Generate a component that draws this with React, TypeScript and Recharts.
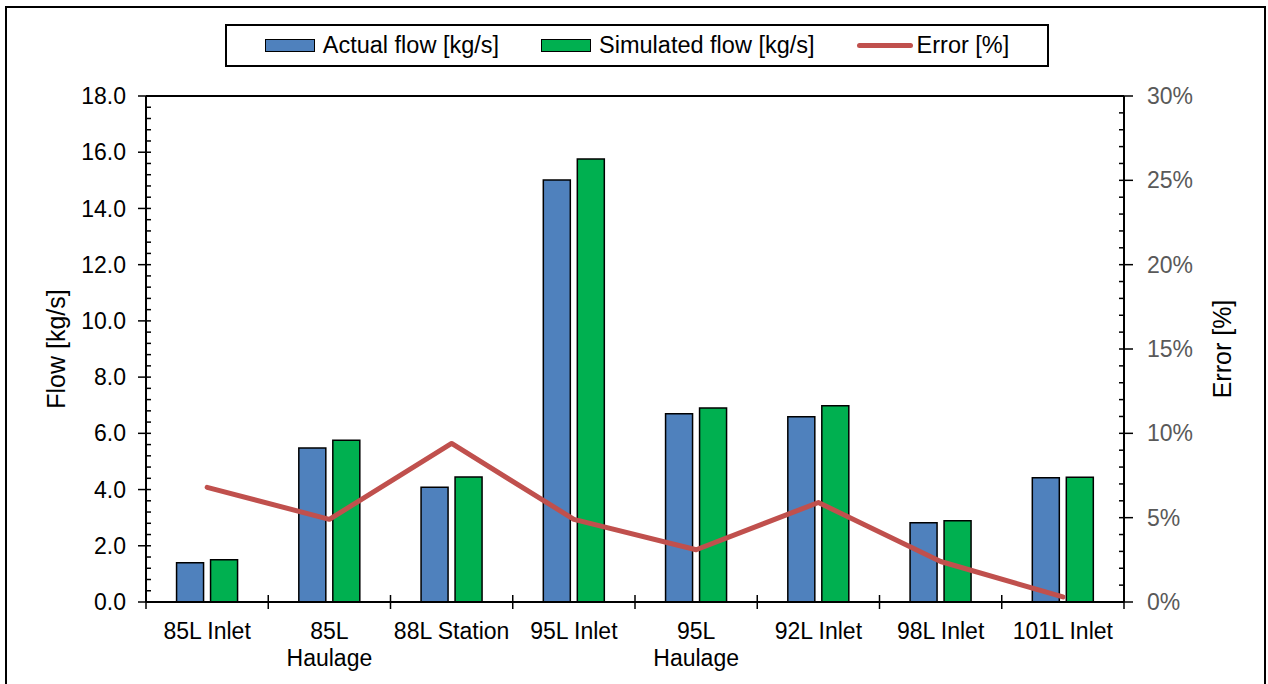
import React from "react";
import {
  ComposedChart, Bar, Line, XAxis, YAxis, CartesianGrid, Legend, ReferenceLine,
} from "recharts";

const categories = [
  "85L Inlet", "85L Haulage", "88L Station", "95L Inlet",
  "95L Haulage", "92L Inlet", "98L Inlet", "101L Inlet",
];
const actualFlow = [1.40, 5.48, 4.08, 15.01, 6.70, 6.59, 2.82, 4.42];
const simulatedFlow = [1.50, 5.75, 4.45, 15.76, 6.90, 6.98, 2.89, 4.44];
const errorPct = [6.8, 4.9, 9.4, 4.9, 3.1, 5.9, 2.4, 0.3];

const flowTicks = [0, 2, 4, 6, 8, 10, 12, 14, 16, 18];
const errorTicks = [0, 5, 10, 15, 20, 25, 30];

const seriesNames = ["Actual flow [kg/s]", "Simulated flow [kg/s]", "Error [%]"];

const W = 1268;
const H = 684;
const LEFT_W = 146;
const RIGHT_W = 144;
const TOP = 96;
const X_AXIS_H = 82;
const PLOT_W = W - LEFT_W - RIGHT_W;
const BAND = PLOT_W / categories.length;

const FONT = "'Liberation Sans', Arial, Helvetica, sans-serif";
const TICK_FONT_SIZE = 23;
const BLUE = "#4F81BD";
const GREEN = "#00B050";
const RED = "#C0504D";

const data = categories.map((name, i) => ({
  name,
  actual: actualFlow[i],
  simulated: simulatedFlow[i],
  error: errorPct[i],
}));

// five minor divisions between each pair of labelled ticks
const withMinor = (major: number[]) => {
  const out: number[] = [];
  for (let i = 0; i < major.length - 1; i++) {
    const step = (major[i + 1] - major[i]) / 5;
    for (let k = 0; k < 5; k++) out.push(major[i] + k * step);
  }
  out.push(major[major.length - 1]);
  return out;
};
const isMajor = (v: number, major: number[]) => major.some((m) => Math.abs(m - v) < 1e-6);

// greedy word wrap so long category names break onto a second line
let measureCtx: CanvasRenderingContext2D | null = null;
const wrapLabel = (label: string, maxWidth: number) => {
  if (!measureCtx) {
    measureCtx = document.createElement("canvas").getContext("2d");
  }
  const ctx = measureCtx!;
  ctx.font = `${TICK_FONT_SIZE}px ${FONT}`;
  const lines: string[] = [];
  let current = "";
  for (const word of label.split(" ")) {
    const next = current ? `${current} ${word}` : word;
    if (current && ctx.measureText(next).width > maxWidth) {
      lines.push(current);
      current = word;
    } else {
      current = next;
    }
  }
  if (current) lines.push(current);
  return lines;
};

const FlowTick = (props: any) => {
  const { x, y, payload } = props;
  const axisX = x + 8 + 12;
  const v = payload.value;
  if (!isMajor(v, flowTicks)) {
    return <line x1={axisX} x2={axisX + 5} y1={y} y2={y} stroke="#000" strokeWidth={1.5} />;
  }
  return (
    <g>
      <line x1={axisX - 8} x2={axisX + 5} y1={y} y2={y} stroke="#000" strokeWidth={1.5} />
      <text x={x} y={y} dy="0.355em" textAnchor="end" fontSize={TICK_FONT_SIZE} fontFamily={FONT} fill="#000">
        {v.toFixed(1)}
      </text>
    </g>
  );
};

const ErrorTick = (props: any) => {
  const { x, y, payload } = props;
  const axisX = x - 9 - 14;
  const v = payload.value;
  if (!isMajor(v, errorTicks)) {
    return <line x1={axisX - 5} x2={axisX} y1={y} y2={y} stroke="#000" strokeWidth={1.5} />;
  }
  return (
    <g>
      <line x1={axisX - 5} x2={axisX + 9} y1={y} y2={y} stroke="#000" strokeWidth={1.5} />
      <text x={x} y={y} dy="0.355em" textAnchor="start" fontSize={TICK_FONT_SIZE} fontFamily={FONT} fill="#595959">
        {`${Math.round(v)}%`}
      </text>
    </g>
  );
};

// category labels, with cross tick marks on the band edges
const CategoryTick = (props: any) => {
  const { x, y, payload, index } = props;
  const axisY = y - 21;
  const left = x - BAND / 2;
  const right = x + BAND / 2;
  const lines = wrapLabel(String(payload.value), 122);
  return (
    <g>
      <line x1={left} x2={left} y1={axisY - 7} y2={axisY + 7} stroke="#000" strokeWidth={1.5} />
      {index === categories.length - 1 && (
        <line x1={right} x2={right} y1={axisY - 7} y2={axisY + 7} stroke="#000" strokeWidth={1.5} />
      )}
      <text x={x} y={y} textAnchor="middle" fontSize={TICK_FONT_SIZE} fontFamily={FONT} fill="#000">
        {lines.map((line, i) => (
          <tspan key={i} x={x} dy={i === 0 ? "0.71em" : 27}>
            {line}
          </tspan>
        ))}
      </text>
    </g>
  );
};

const LegendBox = (props: any) => {
  const payload = [...(props.payload || [])].sort(
    (a: any, b: any) => seriesNames.indexOf(a.value) - seriesNames.indexOf(b.value)
  );
  return (
    <div
      style={{
        boxSizing: "border-box",
        width: 824,
        height: 43,
        border: "2px solid #000",
        background: "#fff",
        display: "flex",
        alignItems: "center",
        justifyContent: "center",
        fontFamily: FONT,
        fontSize: 23.5,
        color: "#000",
      }}
    >
      {payload.map((entry: any, i: number) => (
        <div
          key={entry.value}
          style={{ display: "flex", alignItems: "center", marginLeft: i === 0 ? 0 : 42 }}
        >
          {entry.type === "line" ? (
            <span
              style={{
                display: "inline-block",
                width: 56,
                height: 5,
                borderRadius: 3,
                background: entry.color,
                marginRight: 4,
              }}
            />
          ) : (
            <span
              style={{
                display: "inline-block",
                boxSizing: "border-box",
                width: 50,
                height: 13,
                border: "1.5px solid #000",
                background: entry.color,
                marginRight: 8,
              }}
            />
          )}
          <span style={{ whiteSpace: "nowrap" }}>{entry.value}</span>
        </div>
      ))}
    </div>
  );
};

export default function App() {
  return (
    <div style={{ position: "absolute", left: 0, top: 0, width: W, height: H, background: "#fff", overflow: "hidden" }}>
      <div
        style={{
          position: "absolute",
          left: 5,
          top: 6,
          width: 1261,
          height: 720,
          boxSizing: "border-box",
          border: "2px solid #000",
        }}
      />
      <div style={{ position: "absolute", left: 0, top: 0 }}>
        <ComposedChart
          width={W}
          height={H}
          data={data}
          margin={{ top: TOP, right: 0, bottom: 0, left: 0 }}
          barCategoryGap="25%"
          barGap={7}
        >
          <YAxis yAxisId="grid" hide domain={[0, 18]} ticks={flowTicks} />
          <CartesianGrid yAxisId="grid" vertical={false} stroke="#D9D9D9" strokeWidth={2} />
          <XAxis
            dataKey="name"
            height={X_AXIS_H}
            interval={0}
            tickSize={7}
            tickMargin={14}
            tickLine={false}
            axisLine={{ stroke: "#000", strokeWidth: 2 }}
            tick={<CategoryTick />}
          />
          <YAxis
            yAxisId="flow"
            orientation="left"
            width={LEFT_W}
            domain={[0, 18]}
            ticks={withMinor(flowTicks)}
            interval={0}
            tickSize={8}
            tickMargin={12}
            tickLine={false}
            axisLine={{ stroke: "#000", strokeWidth: 2 }}
            tick={<FlowTick />}
            label={{
              value: "Flow [kg/s]",
              angle: -90,
              position: "insideLeft",
              offset: 56,
              style: { textAnchor: "middle", fontSize: 25, fontFamily: FONT, fill: "#000" },
            }}
          />
          <YAxis
            yAxisId="error"
            orientation="right"
            width={RIGHT_W}
            domain={[0, 30]}
            ticks={withMinor(errorTicks)}
            interval={0}
            tickSize={9}
            tickMargin={14}
            tickLine={false}
            axisLine={{ stroke: "#000", strokeWidth: 2 }}
            tick={<ErrorTick />}
            label={{
              value: "Error [%]",
              angle: -90,
              position: "insideRight",
              offset: 46,
              style: { textAnchor: "middle", fontSize: 25, fontFamily: FONT, fill: "#000" },
            }}
          />
          <ReferenceLine yAxisId="flow" y={18} stroke="#000" strokeWidth={2} />
          <Legend
            layout="vertical"
            align="center"
            verticalAlign="middle"
            wrapperStyle={{ left: 225, top: 24, width: 824, height: 43 }}
            content={<LegendBox />}
          />
          <Bar
            yAxisId="flow"
            dataKey="actual"
            name="Actual flow [kg/s]"
            fill={BLUE}
            stroke="#000"
            strokeWidth={1.5}
            isAnimationActive={false}
          />
          <Bar
            yAxisId="flow"
            dataKey="simulated"
            name="Simulated flow [kg/s]"
            fill={GREEN}
            stroke="#000"
            strokeWidth={1.5}
            isAnimationActive={false}
          />
          <Line
            yAxisId="error"
            dataKey="error"
            name="Error [%]"
            type="linear"
            stroke={RED}
            strokeWidth={5}
            strokeLinecap="round"
            strokeLinejoin="round"
            dot={false}
            activeDot={false}
            isAnimationActive={false}
          />
        </ComposedChart>
      </div>
    </div>
  );
}
